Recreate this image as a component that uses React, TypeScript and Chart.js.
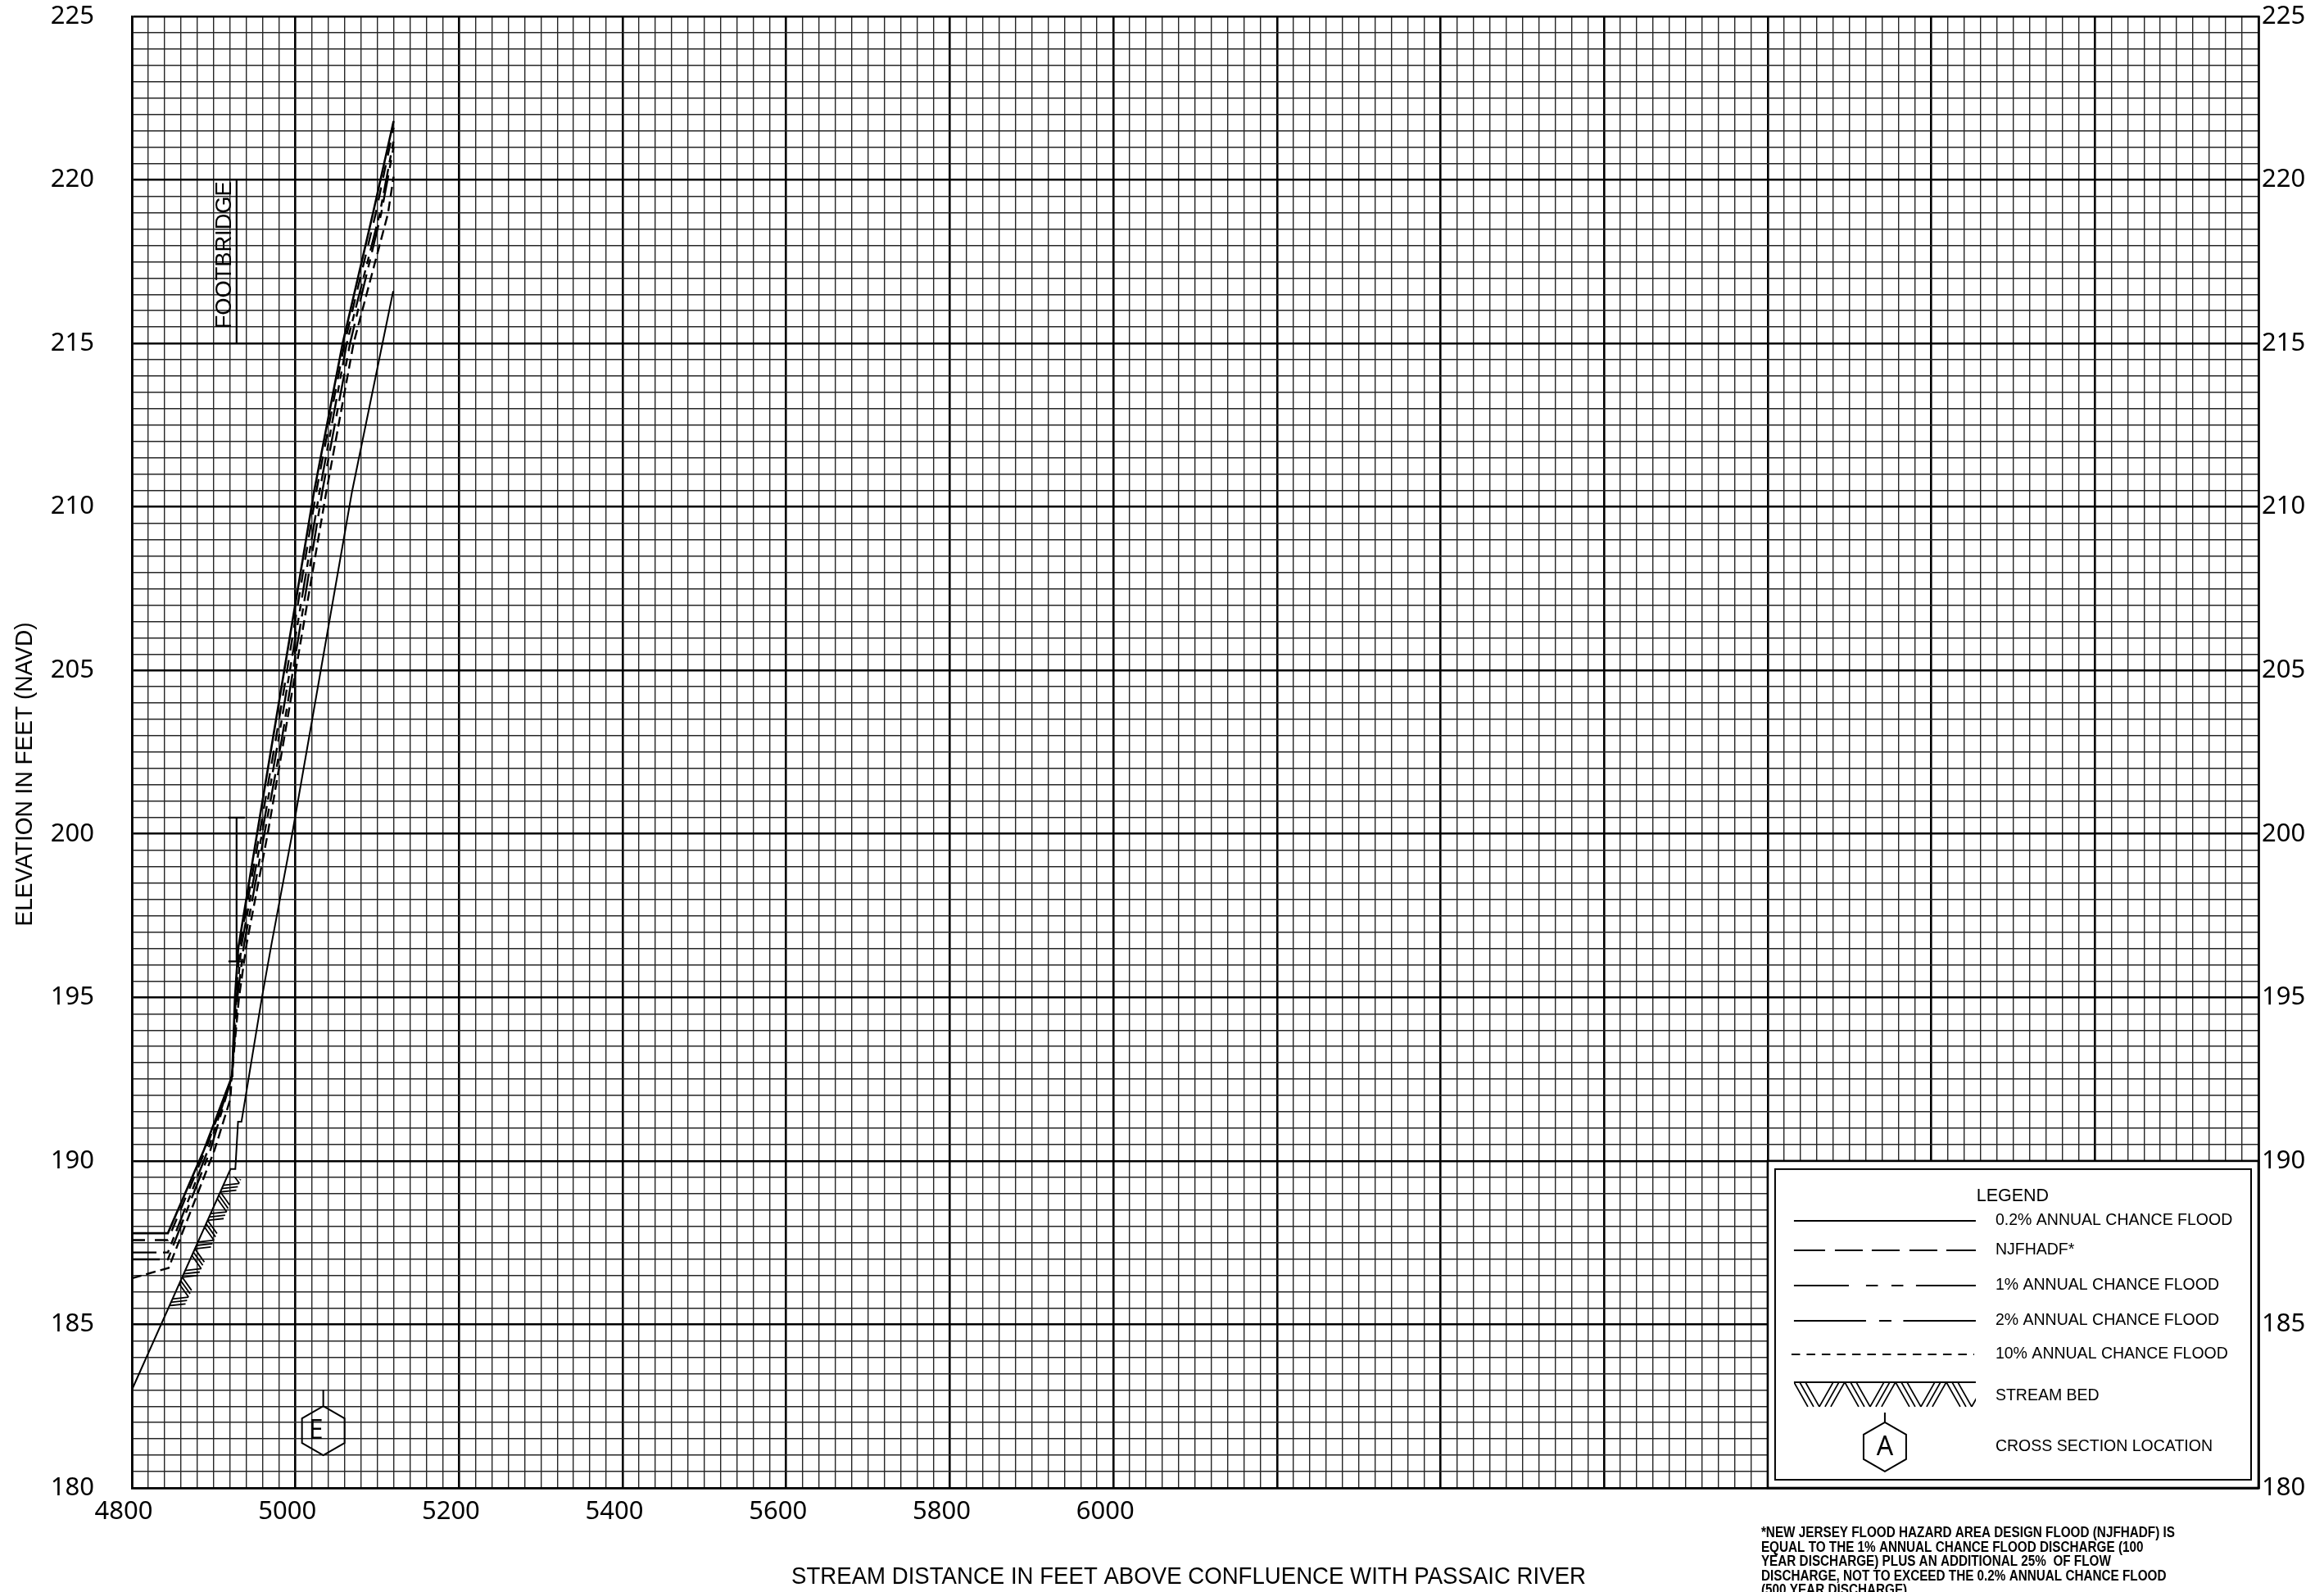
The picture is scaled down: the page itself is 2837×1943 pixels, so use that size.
import React, { useEffect, useRef } from 'react';
import { Chart, registerables } from 'chart.js';

Chart.register(...registerables);

// ---------- axes ----------
const xMin = 4800;
const xMax = 7400;
const xMinorStep = 20;
const xMajorStep = 200;
const yMin = 180;
const yMax = 225;
const yMinorStep = 0.5;
const yMajorStep = 5;
const xTickLabels = [4800, 5000, 5200, 5400, 5600, 5800, 6000];
const yTickLabels = [180, 185, 190, 195, 200, 205, 210, 215, 220, 225];

// ---------- water surface profiles (stream distance ft, elevation ft NAVD) ----------
const flood02X = [4800, 4844, 4888, 4922.6, 4926, 4930, 4953, 4972.3, 5022.6, 5057.7, 5094.6, 5120];
const flood02Y = [187.79, 187.79, 190.33, 192.6, 195.0, 196.5, 200.0, 202.9, 210.45, 215.0, 218.96, 221.8];

const njfhadfX = [4800, 4844, 4890, 4922.6, 4927, 4932, 4956, 4976, 5025.3, 5060, 5098, 5120];
const njfhadfY = [187.58, 187.58, 190.33, 192.6, 195.0, 196.6, 200.0, 202.9, 210.45, 215.0, 218.96, 221.6];

const flood1X = [4800, 4844, 4893, 4922.6, 4928, 4934, 4959, 4979.3, 5029.3, 5062.7, 5103, 5120];
const flood1Y = [187.2, 187.2, 190.33, 192.6, 195.0, 196.6, 200.0, 202.9, 210.45, 215.0, 218.96, 221.2];

const flood2X = [4800, 4844, 4896, 4922.6, 4929, 4937, 4962, 4983.3, 5032.6, 5066.7, 5104.7, 5120];
const flood2Y = [186.99, 186.99, 190.33, 192.6, 195.0, 196.6, 200.0, 202.9, 210.45, 215.0, 218.96, 221.0];

const flood10X = [4800, 4845, 4901, 4920.5, 4922, 4931, 4940, 4966, 4986, 5037.6, 5071, 5113, 5120];
const flood10Y = [186.41, 186.73, 190.33, 191.9, 192.6, 195.0, 196.6, 200.0, 202.9, 210.45, 215.0, 218.96, 220.1];

const streamBedX = [4800, 4920.6, 4926.5, 4929.8, 4934, 4959, 4971, 4996, 5069, 5119.5];
const streamBedY = [183.0, 189.75, 189.75, 191.2, 191.2, 195.0, 196.67, 200.0, 210.45, 216.6];

// ---------- annotations ----------
const bridgeX = 4928;
const bridgeLowChord = 196.1;
const bridgeTopChord = 200.5;
const bridgeCapHalfFt = 10;
const footbridgeLabel = 'FOOTBRIDGE';
const footbridgeBottom = 215;
const footbridgeTop = 220;
const footbridgeTextCenter = 217.7;
const crossSectionLabel = 'E';
const crossSectionX = 5034;
const crossSectionY = 181.75;
const hatchStartX = 4846;
const hatchEndX = 4918;
const legendXRange = [6800, 7400];
const legendYRange = [180, 190];

const legendTitle = 'LEGEND';
const legendLabels = [
  '0.2% ANNUAL CHANCE FLOOD',
  'NJFHADF*',
  '1% ANNUAL CHANCE FLOOD',
  '2% ANNUAL CHANCE FLOOD',
  '10% ANNUAL CHANCE FLOOD',
];
const legendStreamBed = 'STREAM BED';
const legendCrossSection = 'CROSS SECTION LOCATION';
const legendCrossSectionLetter = 'A';

const xTitle = 'STREAM DISTANCE IN FEET ABOVE CONFLUENCE WITH PASSAIC RIVER';
const yTitle = 'ELEVATION IN FEET (NAVD)';
const footnoteLines = [
  '*NEW JERSEY FLOOD HAZARD AREA DESIGN FLOOD (NJFHADF) IS',
  'EQUAL TO THE 1% ANNUAL CHANCE FLOOD DISCHARGE (100',
  'YEAR DISCHARGE) PLUS AN ADDITIONAL 25%  OF FLOW',
  'DISCHARGE, NOT TO EXCEED THE 0.2% ANNUAL CHANCE FLOOD',
  '(500 YEAR DISCHARGE)',
];

// ---------- styles ----------
const TICK_FONT = '"Noto Sans", "Open Sans", sans-serif';
const TEXT_FONT = '"Liberation Sans", Arial, sans-serif';

const legendSampleSegments: number[][][] = [
  [[0, 222]],
  [[0, 38], [50, 84], [95, 129], [141, 175], [186, 222]],
  [[0, 67], [88, 102.5], [119, 133.5], [149, 222]],
  [[0, 88], [104, 119], [133.5, 222]],
  [],
];

function isMultiple(v: number, step: number) {
  const r = v / step;
  return Math.abs(r - Math.round(r)) < 1e-6;
}

function hasLabel(v: number, list: number[]) {
  return list.some((l) => Math.abs(l - v) < 1e-6);
}

function toPoints(xs: number[], ys: number[]) {
  return xs.map((x, i) => ({ x, y: ys[i] }));
}

function bedY(x: number): number {
  for (let i = 0; i < streamBedX.length - 1; i++) {
    if (x >= streamBedX[i] && x <= streamBedX[i + 1]) {
      const t = (x - streamBedX[i]) / (streamBedX[i + 1] - streamBedX[i]);
      return streamBedY[i] + t * (streamBedY[i + 1] - streamBedY[i]);
    }
  }
  return streamBedY[streamBedY.length - 1];
}

function drawText(
  ctx: CanvasRenderingContext2D,
  text: string,
  x: number,
  y: number,
  font: string,
  opts: { align?: 'left' | 'center' | 'right'; baseline?: CanvasTextBaseline; width?: number; sx?: number; rotate?: number } = {}
) {
  ctx.save();
  ctx.font = font;
  ctx.fillStyle = '#000';
  ctx.textAlign = 'left';
  ctx.textBaseline = opts.baseline || 'middle';
  const w = ctx.measureText(text).width;
  let sx = opts.sx || 1;
  if (opts.width) sx = opts.width / w;
  ctx.translate(x, y);
  if (opts.rotate) ctx.rotate(opts.rotate);
  ctx.scale(sx, 1);
  let ox = 0;
  if (opts.align === 'center') ox = -w / 2;
  else if (opts.align === 'right') ox = -w;
  ctx.fillText(text, ox, 0);
  ctx.restore();
}

function drawHerringbone(
  ctx: CanvasRenderingContext2D,
  x0: number, y0: number, x1: number, y1: number,
  D: number, h: number, g: number, lw: number
) {
  const dx = x1 - x0;
  const dy = y1 - y0;
  const L = Math.hypot(dx, dy);
  const ux = dx / L;
  const uy = dy / L;
  const nx = -uy;
  const ny = ux;
  ctx.save();
  ctx.translate(x0, y0);
  ctx.transform(ux, uy, nx, ny, 0, 0);
  ctx.beginPath();
  ctx.rect(0, -3, L, D + 6);
  ctx.clip();
  ctx.lineWidth = lw;
  ctx.strokeStyle = '#000';
  const P = 2 * h + 4 * g;
  ctx.beginPath();
  for (let s = -P; s < L + P; s += P) {
    for (let k = 0; k < 3; k++) {
      ctx.moveTo(s + k * g, 0);
      ctx.lineTo(s + k * g + h, D);
      ctx.moveTo(s + h + 2 * g + k * g, D);
      ctx.lineTo(s + 2 * h + 2 * g + k * g, 0);
    }
  }
  ctx.stroke();
  ctx.restore();
}

function drawHex(ctx: CanvasRenderingContext2D, cx: number, cy: number, r: number, stem: number, lw: number) {
  ctx.save();
  ctx.strokeStyle = '#000';
  ctx.lineWidth = lw;
  ctx.beginPath();
  for (let i = 0; i < 6; i++) {
    const a = -Math.PI / 2 + (i * Math.PI) / 3;
    const px = cx + r * Math.cos(a);
    const py = cy + r * Math.sin(a);
    if (i === 0) ctx.moveTo(px, py);
    else ctx.lineTo(px, py);
  }
  ctx.closePath();
  ctx.moveTo(cx, cy - r);
  ctx.lineTo(cx, cy - r - stem);
  ctx.stroke();
  ctx.restore();
}

const overlayPlugin = {
  id: 'profileOverlay',
  afterDatasetsDraw(chart: any) {
    const ctx: CanvasRenderingContext2D = chart.ctx;
    const xs = chart.scales.x;
    const ys = chart.scales.y;
    const px = (v: number) => xs.getPixelForValue(v);
    const py = (v: number) => ys.getPixelForValue(v);

    ctx.save();
    ctx.strokeStyle = '#000';
    ctx.lineCap = 'butt';

    // stream bed hatch
    drawHerringbone(ctx, px(hatchStartX), py(bedY(hatchStartX)), px(hatchEndX), py(bedY(hatchEndX)), 17, 10, 4.5, 1.8);

    // bridge symbol
    const bx = px(bridgeX);
    const capL = px(bridgeX - bridgeCapHalfFt);
    const capR = px(bridgeX + bridgeCapHalfFt);
    ctx.lineWidth = 2.2;
    ctx.beginPath();
    ctx.moveTo(bx, py(bridgeLowChord));
    ctx.lineTo(bx, py(bridgeTopChord));
    ctx.moveTo(capL, py(bridgeLowChord));
    ctx.lineTo(capR, py(bridgeLowChord));
    ctx.moveTo(capL, py(bridgeTopChord));
    ctx.lineTo(capR, py(bridgeTopChord));
    ctx.stroke();

    // footbridge label
    ctx.beginPath();
    ctx.moveTo(bx, py(footbridgeBottom));
    ctx.lineTo(bx, py(footbridgeTop));
    ctx.stroke();
    drawText(ctx, footbridgeLabel, bx - 7, py(footbridgeTextCenter), `28px ${TEXT_FONT}`, {
      align: 'center', baseline: 'alphabetic', width: 180, rotate: -Math.PI / 2,
    });

    // cross section E
    const cxs = px(crossSectionX);
    const cys = py(crossSectionY);
    drawHex(ctx, cxs, cys, 30, 20, 2);
    drawText(ctx, crossSectionLabel, cxs - 9, cys + 1, `32px ${TICK_FONT}`, { align: 'center' });

    // legend box
    const bx0 = px(legendXRange[0]);
    const bx1 = px(legendXRange[1]);
    const by0 = py(legendYRange[1]);
    const by1 = py(legendYRange[0]);
    ctx.fillStyle = '#fff';
    ctx.fillRect(bx0, by0, bx1 - bx0, by1 - by0);
    ctx.lineWidth = 2.6;
    ctx.strokeRect(bx0, by0, bx1 - bx0, by1 - by0);
    ctx.lineWidth = 2;
    ctx.strokeRect(bx0 + 9, by0 + 10, bx1 - bx0 - 18, by1 - by0 - 20);

    drawText(ctx, legendTitle, bx0 + 299, by0 + 43, `21.5px ${TEXT_FONT}`, { align: 'center' });
    const rowY = [73, 109, 152, 195, 236];
    const sx0 = bx0 + 32;
    ctx.lineWidth = 2;
    legendLabels.forEach((lab, i) => {
      const yy = by0 + rowY[i];
      ctx.beginPath();
      if (i === 4) {
        ctx.setLineDash([10.5, 8]);
        ctx.moveTo(sx0 - 3, yy);
        ctx.lineTo(sx0 + 220, yy);
        ctx.stroke();
        ctx.setLineDash([]);
      } else {
        legendSampleSegments[i].forEach(([a, b]) => {
          ctx.moveTo(sx0 + a, yy);
          ctx.lineTo(sx0 + b, yy);
        });
        ctx.stroke();
      }
      drawText(ctx, lab, bx0 + 278, yy, `19.5px ${TEXT_FONT}`, { align: 'left' });
    });

    // stream bed sample
    const sbY = by0 + 270;
    ctx.lineWidth = 2;
    ctx.beginPath();
    ctx.moveTo(sx0, sbY);
    ctx.lineTo(sx0 + 222, sbY);
    ctx.stroke();
    drawHerringbone(ctx, sx0, sbY, sx0 + 222, sbY, 30, 17, 7, 1.8);
    drawText(ctx, legendStreamBed, bx0 + 278, by0 + 287, `19.5px ${TEXT_FONT}`, { align: 'left' });

    // cross section sample
    const hx = bx0 + 143;
    const hy = by0 + 349;
    drawHex(ctx, hx, hy, 30, 12, 2);
    drawText(ctx, legendCrossSectionLetter, hx, hy + 1, `32px ${TICK_FONT}`, { align: 'center' });
    drawText(ctx, legendCrossSection, bx0 + 278, hy, `19.5px ${TEXT_FONT}`, { align: 'left' });

    ctx.restore();
  },
  afterDraw(chart: any) {
    const ctx: CanvasRenderingContext2D = chart.ctx;
    const area = chart.chartArea;
    const xs = chart.scales.x;
    // axis titles
    drawText(ctx, xTitle, (area.left + area.right) / 2 - 8, 1925, `30px ${TEXT_FONT}`, { align: 'center', width: 970 });
    drawText(ctx, yTitle, 31, 945, `30px ${TEXT_FONT}`, { align: 'center', width: 371, rotate: -Math.PI / 2 });

    // footnote
    ctx.save();
    const font = `bold 18px ${TEXT_FONT}`;
    ctx.font = font;
    const w1 = ctx.measureText(footnoteLines[0]).width;
    const sx = 505 / w1;
    ctx.restore();
    const fx = xs.getPixelForValue(legendXRange[0]) - 8;
    footnoteLines.forEach((line, i) => {
      drawText(ctx, line, fx, 1876 + i * 17.6, font, { align: 'left', baseline: 'alphabetic', sx });
    });
  },
};

function buildTicks(min: number, max: number, step: number) {
  const n = Math.round((max - min) / step);
  const t: { value: number }[] = [];
  for (let i = 0; i <= n; i++) t.push({ value: min + i * step });
  return t;
}

function zeroPad(s: any) {
  s.paddingTop = 0;
  s.paddingBottom = 0;
  s.paddingLeft = 0;
  s.paddingRight = 0;
}

export default function App() {
  const ref = useRef<HTMLCanvasElement>(null);

  useEffect(() => {
    const canvas = ref.current;
    if (!canvas) return;

    const lineBase = {
      borderColor: '#000',
      backgroundColor: '#000',
      pointRadius: 0,
      pointHoverRadius: 0,
      tension: 0,
      fill: false,
      borderCapStyle: 'butt' as const,
      borderJoinStyle: 'miter' as const,
    };

    const tickFont = { family: TICK_FONT, size: 31 };

    const gridColor = (step: number) => (c: any) =>
      c.tick && isMultiple(c.tick.value, step) ? '#000' : '#262626';
    const gridWidth = (step: number) => (c: any) =>
      c.tick && isMultiple(c.tick.value, step) ? 2.6 : 1.4;

    const chart = new Chart(canvas, {
      type: 'line',
      data: {
        datasets: [
          { ...lineBase, label: '0.2% ANNUAL CHANCE FLOOD', data: toPoints(flood02X, flood02Y), borderWidth: 2.6 },
          { ...lineBase, label: 'NJFHADF*', data: toPoints(njfhadfX, njfhadfY), borderWidth: 2.4, borderDash: [16, 12] },
          { ...lineBase, label: '1% ANNUAL CHANCE FLOOD', data: toPoints(flood1X, flood1Y), borderWidth: 2.4, borderDash: [30, 8, 9, 8, 9, 8] },
          { ...lineBase, label: '2% ANNUAL CHANCE FLOOD', data: toPoints(flood2X, flood2Y), borderWidth: 2.4, borderDash: [34, 9, 10, 9] },
          { ...lineBase, label: '10% ANNUAL CHANCE FLOOD', data: toPoints(flood10X, flood10Y), borderWidth: 2.4, borderDash: [12, 6] },
          { ...lineBase, label: 'STREAM BED', data: toPoints(streamBedX, streamBedY), borderWidth: 2 },
        ],
      },
      options: {
        animation: false,
        responsive: false,
        devicePixelRatio: 1,
        events: [],
        layout: { autoPadding: false, padding: { top: 20, left: 0, right: 0, bottom: 0 } },
        plugins: {
          legend: { display: false },
          tooltip: { enabled: false },
        },
        scales: {
          x: {
            type: 'linear',
            position: 'bottom',
            min: xMin,
            max: xMax,
            afterBuildTicks: (s: any) => { s.ticks = buildTicks(xMin, xMax, xMinorStep); },
            afterFit: (s: any) => { s.height = 127; zeroPad(s); },
            ticks: {
              autoSkip: false,
              maxRotation: 0,
              minRotation: 0,
              padding: 11,
              labelOffset: -10,
              color: '#000',
              font: tickFont,
              callback: (v: any) => (hasLabel(Number(v), xTickLabels) ? String(Math.round(Number(v))) : ''),
            },
            grid: { drawTicks: false, color: gridColor(xMajorStep), lineWidth: gridWidth(xMajorStep) },
            border: { display: true, color: '#000', width: 2.6 },
          },
          y: {
            type: 'linear',
            position: 'left',
            min: yMin,
            max: yMax,
            afterBuildTicks: (s: any) => { s.ticks = buildTicks(yMin, yMax, yMinorStep); },
            afterFit: (s: any) => { s.width = 161; zeroPad(s); },
            ticks: {
              autoSkip: false,
              padding: 46,
              color: '#000',
              font: tickFont,
              callback: (v: any) => (hasLabel(Number(v), yTickLabels) ? String(Math.round(Number(v))) : ''),
            },
            grid: { drawTicks: false, color: gridColor(yMajorStep), lineWidth: gridWidth(yMajorStep) },
            border: { display: true, color: '#000', width: 2.6 },
          },
          y2: {
            type: 'linear',
            position: 'right',
            min: yMin,
            max: yMax,
            afterBuildTicks: (s: any) => { s.ticks = buildTicks(yMin, yMax, yMinorStep); },
            afterFit: (s: any) => { s.width = 80; zeroPad(s); },
            ticks: {
              autoSkip: false,
              padding: 4,
              color: '#000',
              font: tickFont,
              callback: (v: any) => (hasLabel(Number(v), yTickLabels) ? String(Math.round(Number(v))) : ''),
            },
            grid: { display: false, drawTicks: false },
            border: { display: true, color: '#000', width: 2.6 },
          },
        },
      } as any,
      plugins: [overlayPlugin],
    });

    return () => chart.destroy();
  }, []);

  return (
    <div style={{ position: 'fixed', left: 0, top: 0, width: 2837, height: 1943, background: '#fff' }}>
      <canvas ref={ref} width={2837} height={1943} style={{ display: 'block', width: 2837, height: 1943 }} />
    </div>
  );
}
